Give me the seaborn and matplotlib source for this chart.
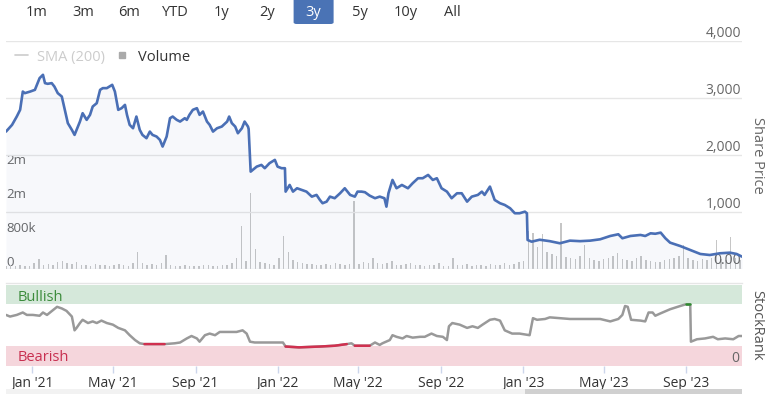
import numpy as np
import pandas as pd
import matplotlib
matplotlib.use("Agg")
import matplotlib.pyplot as plt
import matplotlib.dates as mdates
import matplotlib.transforms as mtransforms
from matplotlib.lines import Line2D
from matplotlib.patches import FancyBboxPatch, Rectangle
import seaborn as sns

# ---------------- data ----------------
range_buttons = ["1m", "3m", "6m", "YTD", "1y", "2y", "3y", "5y", "10y", "All"]
selected_range = "3y"

x_start, x_end = "2020-11-23", "2023-11-23"

price_dates = [
    "2020-11-23", "2020-12-02", "2020-12-09", "2020-12-14", "2020-12-18", "2020-12-21", "2020-12-29",
    "2021-01-05", "2021-01-08", "2021-01-12", "2021-01-17", "2021-01-20", "2021-01-24", "2021-01-30",
    "2021-02-03", "2021-02-08", "2021-02-14", "2021-02-18", "2021-02-23", "2021-03-01", "2021-03-05",
    "2021-03-10", "2021-03-13", "2021-03-17", "2021-03-23", "2021-03-28", "2021-04-01", "2021-04-07",
    "2021-04-12", "2021-04-16", "2021-04-22", "2021-04-30", "2021-05-04", "2021-05-09", "2021-05-14",
    "2021-05-19", "2021-05-22", "2021-05-26", "2021-05-31", "2021-06-05", "2021-06-10", "2021-06-14",
    "2021-06-20", "2021-06-25", "2021-06-29", "2021-07-05", "2021-07-10", "2021-07-14", "2021-07-20",
    "2021-07-25", "2021-07-29", "2021-08-04", "2021-08-09", "2021-08-16", "2021-08-19", "2021-08-23",
    "2021-08-28", "2021-09-03", "2021-09-07", "2021-09-12", "2021-09-18", "2021-09-22", "2021-09-27",
    "2021-10-03", "2021-10-10", "2021-10-18", "2021-10-21", "2021-10-25", "2021-10-30", "2021-11-03",
    "2021-11-09", "2021-11-13", "2021-11-18", "2021-11-19", "2021-11-22", "2021-11-25", "2021-12-01",
    "2021-12-08", "2021-12-13", "2021-12-20", "2021-12-28", "2022-01-01", "2022-01-07", "2022-01-12",
    "2022-01-13", "2022-01-19", "2022-01-24", "2022-01-30", "2022-02-06", "2022-02-13", "2022-02-21",
    "2022-02-28", "2022-03-05", "2022-03-09", "2022-03-15", "2022-03-20", "2022-03-27", "2022-04-04",
    "2022-04-11", "2022-04-19", "2022-04-26", "2022-04-30", "2022-05-06", "2022-05-11", "2022-05-18",
    "2022-05-26", "2022-06-02", "2022-06-09", "2022-06-12", "2022-06-15", "2022-06-21", "2022-06-27",
    "2022-07-05", "2022-07-14", "2022-07-21", "2022-07-29", "2022-08-05", "2022-08-13", "2022-08-20",
    "2022-08-26", "2022-09-02", "2022-09-10", "2022-09-17", "2022-09-25", "2022-10-02", "2022-10-10",
    "2022-10-17", "2022-10-26", "2022-11-01", "2022-11-05", "2022-11-13", "2022-11-20", "2022-11-28",
    "2022-12-05", "2022-12-13", "2022-12-20", "2022-12-27", "2023-01-04", "2023-01-07", "2023-01-08",
    "2023-01-14", "2023-01-26", "2023-02-10", "2023-02-25", "2023-03-12", "2023-03-27", "2023-04-11",
    "2023-04-26", "2023-05-11", "2023-05-23", "2023-05-29", "2023-06-10", "2023-06-25", "2023-07-02",
    "2023-07-10", "2023-07-17", "2023-07-25", "2023-08-01", "2023-08-08", "2023-08-23", "2023-09-07",
    "2023-09-22", "2023-10-06", "2023-10-21", "2023-11-05", "2023-11-15", "2023-11-23",
]
price_values = [
    2404, 2522, 2668, 2786, 3107, 3079, 3107,
    3137, 3225, 3343, 3401, 3255, 3243, 3255,
    3195, 3079, 3020, 2815, 2552, 2434, 2346,
    2492, 2580, 2727, 2610, 2698, 2844, 2903,
    3137, 3167, 3167, 3225, 3107, 2786, 2815,
    2873, 2698, 2522, 2463, 2668, 2434, 2346,
    2288, 2404, 2346, 2317, 2258, 2141, 2317,
    2639, 2668, 2610, 2580, 2639, 2610, 2700,
    2786, 2815, 2698, 2756, 2580, 2522, 2404,
    2463, 2492, 2580, 2668, 2552, 2492, 2375,
    2463, 2580, 2492, 2450, 1701, 1731, 1789,
    1819, 1761, 1849, 1907, 1789, 1761, 1761,
    1350, 1467, 1350, 1409, 1380, 1350, 1262,
    1292, 1204, 1146, 1174, 1262, 1234, 1321,
    1409, 1292, 1262, 1350, 1350, 1340, 1280,
    1234, 1262, 1234, 1086, 1321, 1555, 1409,
    1467, 1409, 1497, 1585, 1585, 1643, 1555,
    1585, 1409, 1350, 1234, 1321, 1321, 1174,
    1262, 1292, 1350, 1292, 1438, 1204, 1146,
    1116, 1058, 970, 970, 998, 970, 501,
    471, 505, 480, 443, 489, 480, 489,
    513, 571, 601, 531, 571, 589, 571,
    618, 610, 630, 531, 454, 395, 325,
    255, 237, 267, 278, 255, 208,
]

# weekly volume (thousands of shares), weeks starting 2020-11-23
volume_start = "2020-11-23"
volume_k = [
    60, 80, 50, 90, 60, 70, 120, 220, 90, 110, 80,
    150, 180, 120, 100, 160, 90, 80, 70, 100, 90,
    80, 70, 90, 110, 80, 70, 130, 400, 120, 90,
    100, 80, 140, 330, 90, 70, 60, 80, 70, 60,
    70, 90, 80, 60, 70, 80, 90, 120, 250, 1000,
    180, 1780, 470, 150, 120, 100, 90, 250, 780, 400,
    200, 150, 120, 110, 100, 90, 80, 100, 90, 120,
    100, 90, 110, 1600, 100, 150, 120, 250, 140, 100,
    120, 180, 90, 80, 100, 130, 90, 80, 70, 90,
    80, 120, 70, 60, 250, 90, 80, 100, 70, 90,
    80, 70, 100, 90, 80, 120, 90, 100, 150, 180,
    890, 850, 500, 820, 400, 350, 300, 1070, 280, 250,
    220, 300, 560, 250, 200, 180, 220, 260, 300, 360,
    220, 200, 180, 250, 290, 200, 180, 160, 150, 200,
    220, 250, 300, 560, 250, 200, 180, 220, 200, 250,
    670, 220, 200, 740, 250, 200,
]

rank_dates = [
    "2020-11-23", "2020-11-29", "2020-12-09", "2020-12-18", "2020-12-24", "2021-01-02", "2021-01-12",
    "2021-01-17", "2021-01-23", "2021-02-01", "2021-02-07", "2021-02-14", "2021-02-21", "2021-03-01",
    "2021-03-05", "2021-03-08", "2021-03-13", "2021-03-17", "2021-03-25", "2021-04-01", "2021-04-07",
    "2021-04-14", "2021-04-22", "2021-05-01", "2021-05-09", "2021-05-19", "2021-05-26", "2021-06-03",
    "2021-06-10", "2021-06-17", "2021-07-02", "2021-07-17", "2021-08-01", "2021-08-09", "2021-08-19",
    "2021-08-26", "2021-09-03", "2021-09-07", "2021-09-15", "2021-09-22", "2021-09-30", "2021-10-07",
    "2021-10-19", "2021-11-01", "2021-11-10", "2021-11-16", "2021-11-21", "2021-11-28", "2021-12-20",
    "2022-01-09", "2022-01-13", "2022-02-02", "2022-03-05", "2022-03-27", "2022-04-14", "2022-04-21",
    "2022-04-26", "2022-05-18", "2022-05-26", "2022-06-02", "2022-06-06", "2022-06-17", "2022-06-21",
    "2022-06-27", "2022-07-06", "2022-07-12", "2022-07-21", "2022-08-01", "2022-08-08", "2022-08-18",
    "2022-08-26", "2022-09-04", "2022-09-10", "2022-09-13", "2022-09-18", "2022-09-29", "2022-10-10",
    "2022-10-18", "2022-10-26", "2022-11-02", "2022-11-13", "2022-11-20", "2022-11-28", "2022-12-05",
    "2022-12-16", "2022-12-27", "2023-01-11", "2023-01-16", "2023-01-22", "2023-02-03", "2023-02-10",
    "2023-02-25", "2023-03-12", "2023-03-27", "2023-04-11", "2023-04-26", "2023-05-11", "2023-05-23",
    "2023-05-29", "2023-06-02", "2023-06-06", "2023-06-11", "2023-06-25", "2023-07-02", "2023-07-07",
    "2023-07-13", "2023-07-17", "2023-07-25", "2023-08-08", "2023-08-23", "2023-08-31", "2023-09-07",
    "2023-09-08", "2023-09-17", "2023-09-29", "2023-10-11", "2023-10-18", "2023-10-29", "2023-11-10",
    "2023-11-18", "2023-11-23",
]
rank_values = [
    63, 61, 63, 66, 63, 63, 62,
    66, 63, 69, 73, 71, 68, 61,
    44, 47, 53, 57, 53, 55, 53,
    56, 53, 51, 47, 44, 38, 32,
    28, 27, 27, 27, 28, 29, 34,
    37, 34, 30, 38, 40, 38, 42,
    42, 42, 44, 40, 30, 29, 29,
    29, 24, 23, 24, 25, 27, 28,
    25, 25, 29, 26, 28, 32, 38,
    36, 34, 37, 35, 36, 36, 40,
    37, 36, 32, 49, 53, 51, 47,
    49, 47, 51, 57, 58, 56, 44,
    40, 40, 38, 59, 57, 58, 60,
    59, 58, 58, 58, 58, 55, 58,
    63, 74, 73, 57, 56, 55, 66,
    66, 62, 65, 70, 74, 76, 76,
    30, 33, 34, 36, 33, 34, 33,
    37, 37,
]

price_ticks = [0, 1000, 2000, 3000, 4000]
price_tick_labels = ["0.00", "1,000", "2,000", "3,000", "4,000"]
volume_ticks = [0, 800_000, 1_600_000, 2_400_000]
volume_tick_labels = ["0", "800k", "2m", "2m"]
bearish_band = (0, 25)
bullish_band = (76, 100)

# ---------------- style ----------------
sns.set_theme(style="white")
plt.rcParams["font.family"] = ["Open Sans", "DejaVu Sans"]

PRICE_C = "#4a6fb5"
W, H = 765, 394
fig = plt.figure(figsize=(W / 100, H / 100), dpi=100)


def fx(px):
    return px / W


def fy(py):
    return 1 - py / H


x0, x1 = pd.Timestamp(x_start), pd.Timestamp(x_end)

# ---------------- price / volume panel ----------------
ax_vol = fig.add_axes([fx(6), fy(268.5), fx(736), (268.5 - 40.7) / H])
ax_price = ax_vol.twinx()

vol_dates = pd.date_range(volume_start, periods=len(volume_k), freq="7D")
ax_vol.bar(vol_dates, np.array(volume_k) * 1000, width=2.2, color="#c6c6c6", linewidth=0)
ax_vol.set_ylim(0, 5.4e6)
ax_vol.set_xlim(x0, x1)
ax_vol.set_yticks(volume_ticks, volume_tick_labels, ha="left", va="bottom",
                  color="#666666", fontsize=9.5)
ax_vol.tick_params(axis="y", length=0, pad=-0.5)
ax_vol.tick_params(axis="x", bottom=False, labelbottom=False)
ax_vol.grid(False)
for s in ax_vol.spines.values():
    s.set_visible(False)

pdates = pd.to_datetime(price_dates)
ax_price.fill_between(pdates, price_values, 0, color=PRICE_C, alpha=0.045, lw=0)
sns.lineplot(x=pdates, y=price_values, ax=ax_price, color=PRICE_C, linewidth=1.9)
ax_price.set_ylim(0, 4000)
ax_price.set_xlim(x0, x1)
ax_price.set_yticks(price_ticks, price_tick_labels, ha="right", va="bottom",
                    color="#666666", fontsize=10)
ax_price.tick_params(axis="y", length=0, pad=-0.5)
ax_price.tick_params(axis="x", bottom=False, labelbottom=False)
ax_price.yaxis.grid(True, color="#e6e6e6", linewidth=1)
ax_price.set_axisbelow(True)
ax_price.set_xlabel("")
ax_price.set_ylabel("")
for s in ax_price.spines.values():
    s.set_visible(False)

handles = [Line2D([0], [0], color="#cccccc", lw=1.2),
           Line2D([0], [0], marker="s", ls="none", color="#aaaaaa", markersize=5)]
ax_price.legend(handles, ["SMA (200)", "Volume"], loc="center left",
                bbox_to_anchor=(0.012, 0.928), ncol=2, frameon=False, fontsize=10.5,
                handlelength=0.9, handletextpad=0.6, columnspacing=0.75,
                borderaxespad=0, borderpad=0, labelcolor=["#cccccc", "#333333"])

fig.text(fx(757), fy(155), "Share Price", rotation=270, ha="center", va="center",
         fontsize=10.5, color="#666666")

# ---------------- StockRank panel ----------------
ax_sr = fig.add_axes([fx(6), fy(366), fx(736), (366 - 282.5) / H])
ax_sr.set_ylim(0, 103)
ax_sr.set_xlim(x0, x1)
ax_sr.axhspan(*bullish_band, color="#d5e8da", lw=0, zorder=0)
ax_sr.axhspan(*bearish_band, color="#f5d6dc", lw=0, zorder=0)

rdates = pd.to_datetime(rank_dates)
rvals = np.array(rank_values, dtype=float)
sns.lineplot(x=rdates, y=rvals, ax=ax_sr, color="#999999", linewidth=1.8, zorder=3)
red = np.where(rvals <= 27, rvals, np.nan)
green = np.where(rvals >= 75, rvals, np.nan)
ax_sr.plot(rdates, red, color="#d0304f", lw=1.8, zorder=4)
ax_sr.plot(rdates, green, color="#2e8b2e", lw=1.8, zorder=4)

blend = mtransforms.blended_transform_factory(ax_sr.transAxes, ax_sr.transData)
ax_sr.text(0.016, 85, "Bullish", transform=blend, ha="left", va="center",
           fontsize=10.5, color="#3b8b3b")
ax_sr.text(0.016, 10, "Bearish", transform=blend, ha="left", va="center",
           fontsize=10.5, color="#c83050")

ax_sr.yaxis.tick_right()
ax_sr.set_yticks([0], ["0"], ha="right", va="bottom", color="#666666", fontsize=10)
ax_sr.tick_params(axis="y", length=0, pad=-1.8)
ax_sr.xaxis.set_major_locator(mdates.MonthLocator(bymonth=[1, 5, 9], bymonthday=1))
ax_sr.xaxis.set_major_formatter(mdates.DateFormatter("%b '%y"))
ax_sr.tick_params(axis="x", bottom=True, length=5, width=1, color="#ccd6eb",
                  labelsize=10, labelcolor="#333333", pad=2.5)
ax_sr.set_xlabel("")
ax_sr.set_ylabel("")
ax_sr.grid(False)
for k, s in ax_sr.spines.items():
    s.set_visible(k == "top")
ax_sr.spines["top"].set_color("#e6e6e6")
ax_sr.spines["top"].set_linewidth(1)

fig.text(fx(757), fy(325), "StockRank", rotation=270, ha="center", va="center",
         fontsize=10.5, color="#555555")

# ---------------- navigator scrollbar ----------------
ax_sb = fig.add_axes([fx(6), 0, fx(736), 5 / H])
ax_sb.set_facecolor("#f2f2f2")
ax_sb.add_patch(Rectangle((0.705, 0), 0.295, 1, transform=ax_sb.transAxes,
                          color="#d0d0d0", lw=0))
ax_sb.set_xticks([])
ax_sb.set_yticks([])
for s in ax_sb.spines.values():
    s.set_visible(False)

# ---------------- range selector buttons ----------------
for i, lab in enumerate(range_buttons):
    xc = 37 + 46.1 * i
    color = "#333333"
    if lab == selected_range:
        box = FancyBboxPatch((fx(xc - 20), fy(24)), fx(40), 30 / H,
                             boxstyle="round,pad=0,rounding_size=0.004",
                             transform=fig.transFigure, fc="#4a73b5", ec="none")
        fig.patches.append(box)
        color = "white"
    fig.text(fx(xc), fy(12), lab, ha="center", va="center", fontsize=10.5, color=color)

fig.savefig("out.png", dpi=100)
